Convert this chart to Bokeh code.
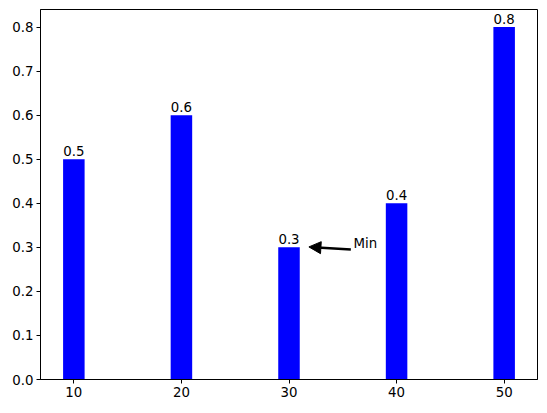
from bokeh.plotting import figure
from bokeh.models import Range1d, FixedTicker, NumeralTickFormatter, Arrow, NormalHead, ColumnDataSource
from bokeh.core.properties import value
from bokeh.embed import file_html
from bokeh.resources import INLINE

x_vals = [10, 20, 30, 40, 50]
y_vals = [0.5, 0.6, 0.3, 0.4, 0.8]
labels = ["0.5", "0.6", "0.3", "0.4", "0.8"]
y_ticks = [0.0, 0.1, 0.2, 0.3, 0.4, 0.5, 0.6, 0.7, 0.8]
annot_text = "Min"
annot_xy = (31.0, 0.3)
annot_xytext = (36.0, 0.3)

FONT = "DejaVu Sans"
FS = "10pt"

p = figure(width=545, height=404, output_backend="svg", toolbar_location=None,
           x_range=Range1d(6.9, 53.1), y_range=Range1d(0, 0.84),
           min_border_left=40, min_border_right=8, min_border_top=9, min_border_bottom=25)
p.xgrid.visible = False
p.ygrid.visible = False
p.outline_line_color = "black"
p.outline_line_width = 1
p.background_fill_color = "white"
p.border_fill_color = "white"

src = ColumnDataSource(dict(x=x_vals, top=y_vals, label=labels))
p.vbar(x="x", top="top", width=2, source=src, fill_color="#0000ff", line_color=None)
p.text(x="x", y="top", text="label", source=src, text_align="center", text_baseline="bottom",
       y_offset=-3, text_font=value(FONT), text_font_size=FS, text_color="black")

# annotation
p.text(x=[annot_xytext[0]], y=[annot_xytext[1]], text=[annot_text], text_align="left",
       text_baseline="alphabetic", y_offset=-4, text_font=value(FONT), text_font_size=FS,
       text_color="black")
p.add_layout(Arrow(end=NormalHead(size=12, fill_color="black", line_color="black"),
                   x_start=annot_xytext[0] - 0.25, y_start=annot_xytext[1] - 0.005,
                   x_end=annot_xy[0] + 0.85, y_end=annot_xy[1] + 0.001,
                   line_color="black", line_width=2.5))

for ax in (p.xaxis, p.yaxis):
    ax.major_tick_in = 0
    ax.major_tick_out = 4
    ax.minor_tick_line_color = None
    ax.axis_line_color = "black"
    ax.major_tick_line_color = "black"
    ax.major_label_text_font = FONT
    ax.major_label_text_font_size = FS
    ax.major_label_text_color = "black"
    ax.major_label_standoff = 3
p.xaxis.ticker = FixedTicker(ticks=x_vals)
p.yaxis.ticker = FixedTicker(ticks=y_ticks)
p.yaxis.formatter = NumeralTickFormatter(format="0.0")

open("out.html", "w").write(file_html(p, INLINE))
